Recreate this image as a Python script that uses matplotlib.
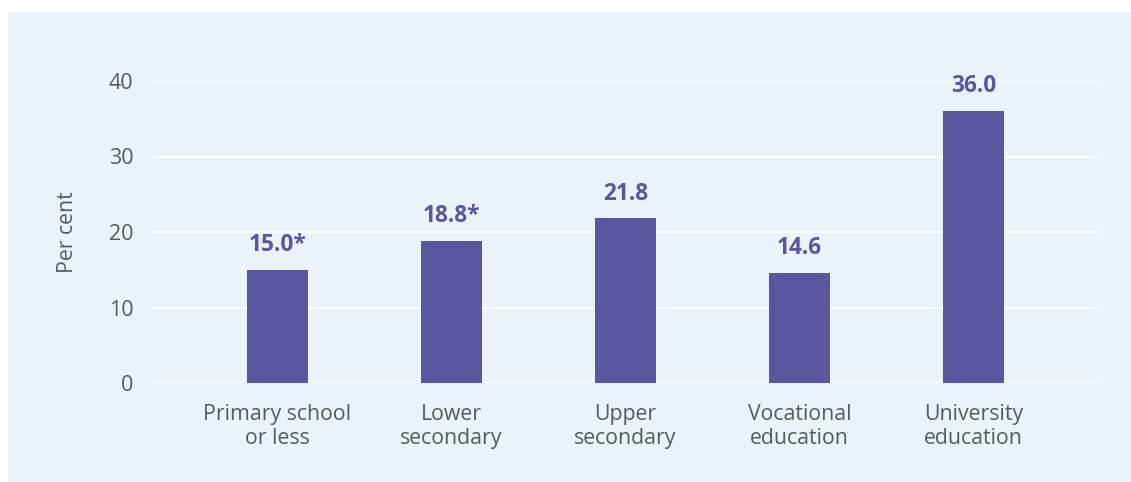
import matplotlib.pyplot as plt
from matplotlib.patches import Rectangle

categories = ["Primary school\nor less", "Lower\nsecondary", "Upper\nsecondary",
              "Vocational\neducation", "University\neducation"]
values = [15.0, 18.8, 21.8, 14.6, 36.0]
value_labels = ["15.0*", "18.8*", "21.8", "14.6", "36.0"]
yticks = [0, 10, 20, 30, 40]

BAR = "#5c55a0"
BG = "#eaf2fa"
TXT = "#595959"

plt.rcParams['font.family'] = ['Open Sans', 'DejaVu Sans']

fig = plt.figure(figsize=(11.31, 4.82), dpi=100, facecolor="white")
# light blue panel behind the chart
fig.patches.append(Rectangle((8 / 1131, 0), 1 - 8 / 1131, 1 - 12 / 482,
                             transform=fig.transFigure, facecolor=BG,
                             edgecolor="none", zorder=-10))

ax = fig.add_axes([153 / 1131, 99 / 482, 945 / 1131, 302 / 482])
ax.set_facecolor("none")
ax.set_zorder(5)

x = list(range(len(categories)))
ax.bar(x, values, width=0.35, color=BAR, zorder=3)

for xi, v, lab in zip(x, values, value_labels):
    ax.annotate(lab, (xi, v), xytext=(0, 13.5), textcoords="offset points",
                ha="center", va="baseline", fontsize=16.3, fontweight="bold",
                color=BAR, annotation_clip=False)

ax.set_xlim(-0.716, 4.716)
ax.set_ylim(0, 40)
ax.set_yticks(yticks)
ax.set_xticks(x)
ax.set_xticklabels(categories, fontsize=15.3, color=TXT, linespacing=1.22)
ax.tick_params(axis="y", labelsize=15.5, labelcolor=TXT, length=0, pad=14)
ax.tick_params(axis="x", length=0, pad=15)
ax.grid(axis="y", color="white", linewidth=1.5, zorder=1)
for s in ax.spines.values():
    s.set_visible(False)

ax.set_ylabel("Per cent", fontsize=15.3, color=TXT, labelpad=22)

fig.savefig("out.png", dpi=100, facecolor="white")
